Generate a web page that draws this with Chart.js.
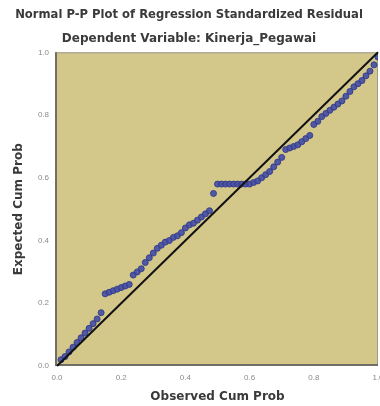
<!DOCTYPE html>
<html>
<head>
<meta charset="utf-8">
<script src="https://cdn.jsdelivr.net/npm/chart.js@4/dist/chart.umd.min.js"></script>
<style>
  html, body { margin: 0; padding: 0; background: #fff; }
  #wrap { width: 380px; height: 406px; }
</style>
</head>
<body>
<div id="wrap"><canvas id="pp"></canvas></div>
<script>
// observed cumulative probability (x) and expected cumulative probability (y)
const observedCum = [
  0.0125, 0.025, 0.0375, 0.05, 0.0625, 0.075, 0.0875, 0.1, 0.1125, 0.125,
  0.1375, 0.15, 0.1625, 0.175, 0.1875, 0.2, 0.2125, 0.225, 0.2375, 0.25,
  0.2625, 0.275, 0.2875, 0.3, 0.3125, 0.325, 0.3375, 0.35, 0.3625, 0.375,
  0.3875, 0.4, 0.4125, 0.425, 0.4375, 0.45, 0.4625, 0.475, 0.4875, 0.5,
  0.5125, 0.525, 0.5375, 0.55, 0.5625, 0.575, 0.5875, 0.6, 0.6125, 0.625,
  0.6375, 0.65, 0.6625, 0.675, 0.6875, 0.7, 0.7125, 0.725, 0.7375, 0.75,
  0.7625, 0.775, 0.7875, 0.8, 0.8125, 0.825, 0.8375, 0.85, 0.8625, 0.875,
  0.8875, 0.9, 0.9125, 0.925, 0.9375, 0.95, 0.9625, 0.975, 0.9875, 1.0
];
const expectedCum = [
  0.02, 0.03, 0.045, 0.06, 0.075, 0.09, 0.105, 0.12, 0.135, 0.15,
  0.17, 0.23, 0.235, 0.24, 0.245, 0.25, 0.255, 0.26, 0.29, 0.30,
  0.31, 0.33, 0.345, 0.36, 0.375, 0.385, 0.395, 0.40, 0.41, 0.415,
  0.425, 0.44, 0.45, 0.455, 0.465, 0.475, 0.485, 0.495, 0.55, 0.58,
  0.58, 0.58, 0.58, 0.58, 0.58, 0.58, 0.58, 0.58, 0.585, 0.59,
  0.60, 0.61, 0.62, 0.635, 0.65, 0.665, 0.69, 0.695, 0.70, 0.705,
  0.715, 0.725, 0.735, 0.77, 0.78, 0.795, 0.805, 0.815, 0.825, 0.835,
  0.845, 0.86, 0.875, 0.89, 0.90, 0.91, 0.925, 0.94, 0.96, 0.985
];
const refLine = [0, 1];
const tickValues = [0, 0.2, 0.4, 0.6, 0.8, 1.0];

const points = observedCum.map((x, i) => ({ x, y: expectedCum[i] }));
const labelFont = { family: 'DejaVu Sans, sans-serif', size: 12, weight: 'bold' };

// tan plot background with a grey frame
const plotBg = {
  id: 'plotBg',
  beforeDatasetsDraw(chart) {
    const { ctx, chartArea: a } = chart;
    ctx.save();
    ctx.fillStyle = '#d3c789';
    ctx.fillRect(a.left - 2, a.top, a.right - a.left + 2, a.bottom - a.top);
    ctx.strokeStyle = '#9a9a90';
    ctx.lineWidth = 1;
    ctx.strokeRect(a.left - 1.5, a.top + 0.5, a.right - a.left + 1, a.bottom - a.top - 1);
    ctx.strokeStyle = '#6f6f68';
    ctx.lineWidth = 2;
    ctx.beginPath();
    ctx.moveTo(a.left - 1, a.top);
    ctx.lineTo(a.left - 1, a.bottom - 1);
    ctx.lineTo(a.right, a.bottom - 1);
    ctx.stroke();
    ctx.restore();
  }
};

new Chart(document.getElementById('pp'), {
  type: 'scatter',
  data: {
    datasets: [
      {
        data: points,
        backgroundColor: 'rgba(66,76,164,0.9)',
        borderColor: 'rgba(50,58,140,0.9)',
        borderWidth: 1,
        pointRadius: 3,
        order: 2
      },
      {
        type: 'line',
        data: refLine.map(v => ({ x: v, y: v })),
        borderColor: '#111',
        borderWidth: 2,
        pointRadius: 0,
        clip: false,
        order: 1
      }
    ]
  },
  options: {
    responsive: true,
    maintainAspectRatio: false,
    animation: false,
    layout: { autoPadding: false, padding: { left: 0, right: 2, top: 0, bottom: 0 } },
    plugins: {
      legend: { display: false },
      tooltip: { enabled: false },
      title: {
        display: true,
        text: 'Normal P-P Plot of Regression Standardized Residual',
        color: '#3a3a3a',
        font: { ...labelFont, size: 11.6 },
        padding: { top: 8, bottom: 10 }
      },
      subtitle: {
        display: true,
        text: 'Dependent Variable: Kinerja_Pegawai',
        color: '#3a3a3a',
        font: labelFont,
        padding: { top: 0, bottom: 6 }
      }
    },
    scales: {
      x: {
        type: 'linear',
        min: 0, max: 1,
        afterBuildTicks: s => { s.ticks = tickValues.map(v => ({ value: v })); },
        afterFit: s => { s.height = 40; s.paddingLeft = 0; s.paddingRight = 0; },
        ticks: {
          color: '#8a8a8a', font: { size: 8 }, padding: 7,
          callback: v => v.toFixed(1)
        },
        grid: { display: false, drawTicks: false },
        border: { display: false },
        title: {
          display: true, text: 'Observed Cum Prob', color: '#3a3a3a',
          font: labelFont,
          padding: { top: 0, bottom: 2 }
        }
      },
      y: {
        type: 'linear',
        min: 0, max: 1,
        afterBuildTicks: s => { s.ticks = tickValues.map(v => ({ value: v })); },
        afterFit: s => { s.width = 57; s.paddingTop = 0; s.paddingBottom = 0; },
        ticks: {
          color: '#8a8a8a', font: { size: 8 }, padding: 8,
          callback: v => v.toFixed(1)
        },
        grid: { display: false, drawTicks: false },
        border: { display: false },
        title: {
          display: true, text: 'Expected Cum Prob', color: '#3a3a3a',
          font: labelFont,
          padding: { top: 12, bottom: 0 }
        }
      }
    }
  },
  plugins: [plotBg]
});
</script>
</body>
</html>
